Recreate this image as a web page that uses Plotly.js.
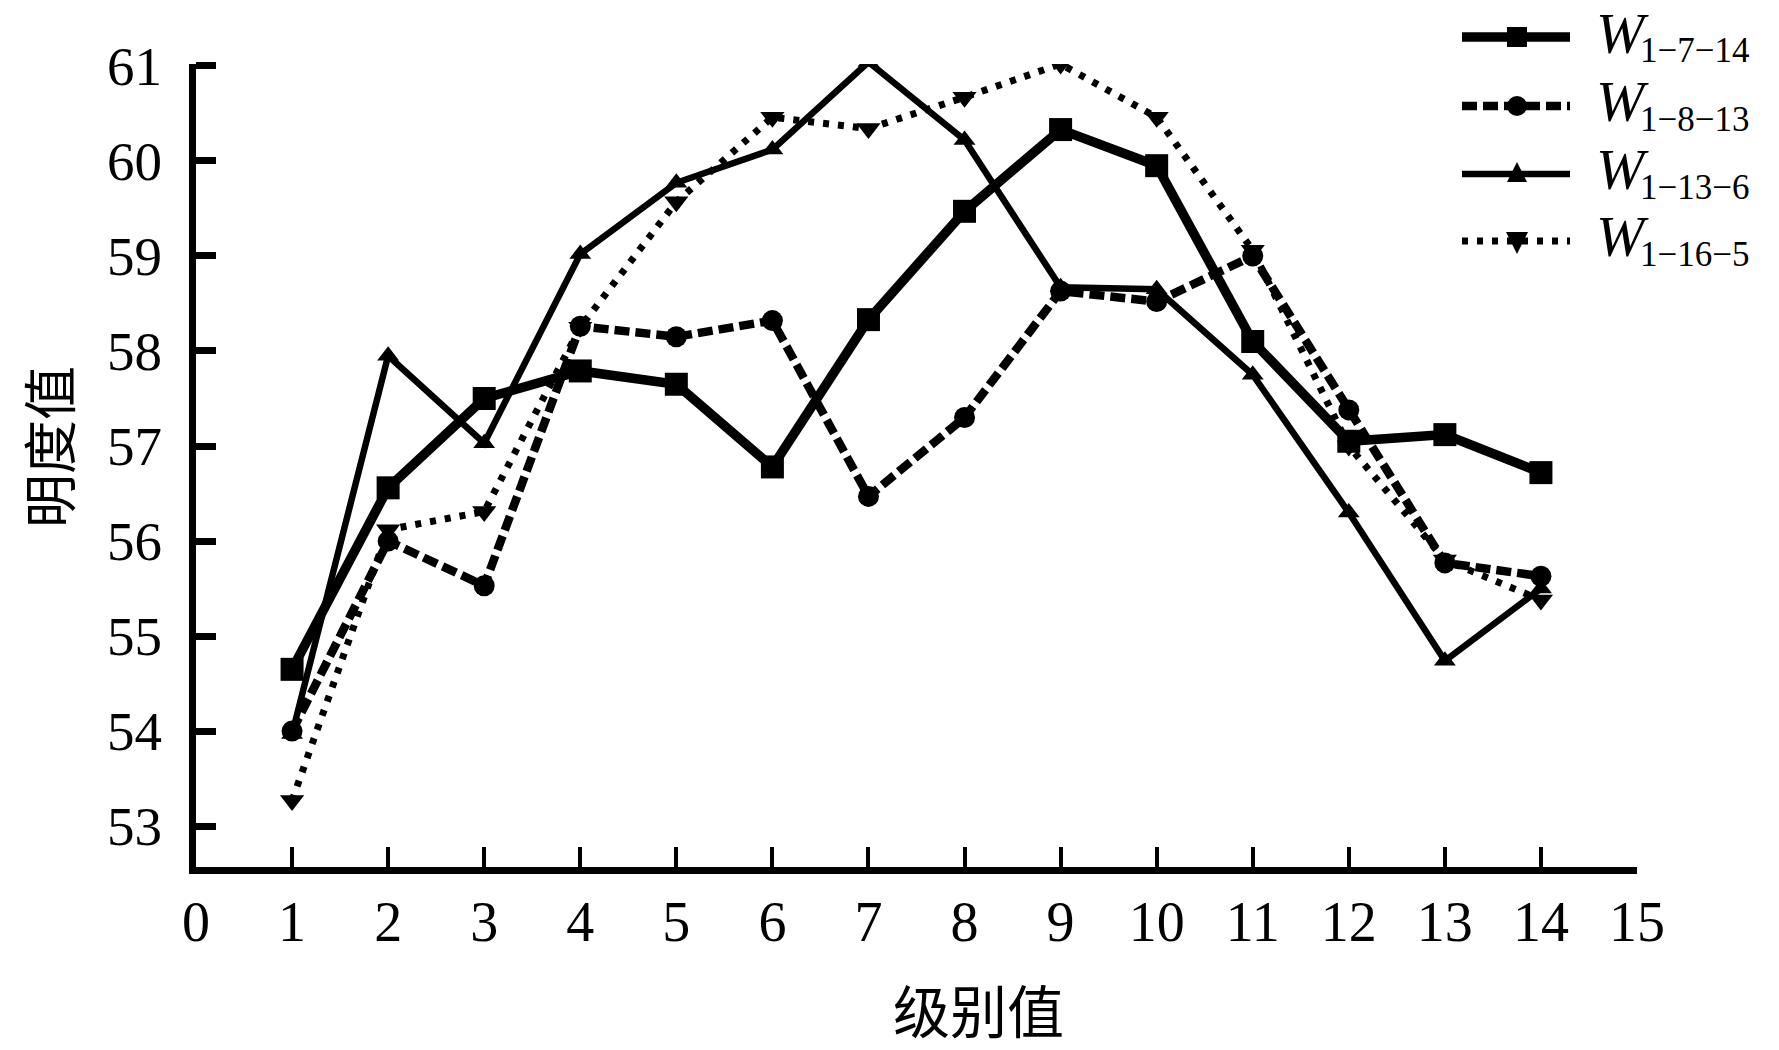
<!DOCTYPE html>
<html>
<head>
<meta charset="utf-8">
<script src="https://cdn.plot.ly/plotly-3.0.1.min.js"></script>
<style>
  html, body { margin: 0; padding: 0; background: #ffffff; }
  #chart { width: 1779px; height: 1050px; }
</style>
</head>
<body>
<div id="chart"></div>
<script>
// Level values (x axis)
const levels = [1, 2, 3, 4, 5, 6, 7, 8, 9, 10, 11, 12, 13, 14];

// Lightness values per series
const w_1_7_14  = [54.65, 56.56, 57.50, 57.79, 57.65, 56.78, 58.33, 59.47, 60.33, 59.95, 58.10, 57.05, 57.12, 56.72];
const w_1_8_13  = [54.00, 56.00, 55.53, 58.26, 58.15, 58.32, 56.47, 57.30, 58.63, 58.52, 59.00, 57.38, 55.77, 55.63];
const w_1_13_6  = [53.97, 57.95, 57.03, 59.02, 59.77, 60.12, 61.04, 60.22, 58.67, 58.65, 57.75, 56.30, 54.74, 55.50];
const w_1_16_5  = [53.27, 56.12, 56.31, 58.25, 59.57, 60.46, 60.34, 60.67, 61.02, 60.46, 59.06, 57.00, 55.80, 55.38];

// Series names (legend) and tick labels
const seriesMain = "W";
const seriesSubs = ["1\u22127\u221214", "1\u22128\u221213", "1\u221213\u22126", "1\u221216\u22125"];
const xTickVals = [0, 1, 2, 3, 4, 5, 6, 7, 8, 9, 10, 11, 12, 13, 14, 15];
const yTickVals = [53, 54, 55, 56, 57, 58, 59, 60, 61];
const xTitle = "级别值";
const yTitle = "明度值";

const serif = "Liberation Serif, Times New Roman, serif";
const cjk = "Noto Sans CJK SC, sans-serif";

// Layout geometry (pixels)
const W = 1779, H = 1050;
const M = { l: 196, r: 142, t: 64, b: 183 };
const PW = W - M.l - M.r, PH = H - M.t - M.b;
const px = v => (v - M.l) / PW;      // pixel x -> paper x
const py = v => (H - M.b - v) / PH;  // pixel y -> paper y

const styles = [
  { line: { color: "#000", width: 9.5, dash: "solid" },    marker: { symbol: "square",        size: 23, color: "#000" } },
  { line: { color: "#000", width: 8.5, dash: "15px,6px" }, marker: { symbol: "circle",        size: 21, color: "#000" } },
  { line: { color: "#000", width: 6.5, dash: "solid" },    marker: { symbol: "triangle-up",   size: 19, color: "#000" } },
  { line: { color: "#000", width: 7,   dash: "6px,9px" },  marker: { symbol: "triangle-down", size: 21, color: "#000" } }
];
const seriesValues = [w_1_7_14, w_1_8_13, w_1_13_6, w_1_16_5];

const traces = seriesValues.map((vals, i) => ({
  x: levels, y: vals,
  name: seriesMain + " " + seriesSubs[i],
  mode: "lines+markers", type: "scatter",
  line: styles[i].line, marker: styles[i].marker,
  showlegend: false
}));

// Hand-drawn legend (long line samples like the reference)
const legRows = [37, 106, 174, 241];
const legX0 = 1462, legX1 = 1570, legMx = 1517;
const shapes = [];
const annotations = [];
legRows.forEach((ry, i) => {
  const st = styles[i];
  shapes.push({
    type: "line", xref: "paper", yref: "paper",
    x0: px(legX0), x1: px(legX1), y0: py(ry), y1: py(ry),
    line: { color: "#000", width: st.line.width, dash: st.line.dash }
  });
  const sym = st.marker.symbol;
  if (sym === "square") {
    shapes.push({ type: "rect", xref: "paper", yref: "paper",
      x0: px(legMx - 10), x1: px(legMx + 10), y0: py(ry - 10), y1: py(ry + 10),
      fillcolor: "#000", line: { width: 0 } });
  } else if (sym === "circle") {
    shapes.push({ type: "circle", xref: "paper", yref: "paper",
      x0: px(legMx - 10), x1: px(legMx + 10), y0: py(ry - 10), y1: py(ry + 10),
      fillcolor: "#000", line: { width: 0 } });
  } else if (sym === "triangle-up") {
    shapes.push({ type: "path", xref: "paper", yref: "paper",
      path: "M" + px(legMx) + "," + py(ry - 12) + " L" + px(legMx + 10) + "," + py(ry + 8) +
            " L" + px(legMx - 10) + "," + py(ry + 8) + " Z",
      fillcolor: "#000", line: { width: 0 } });
  } else {
    shapes.push({ type: "path", xref: "paper", yref: "paper",
      path: "M" + px(legMx - 11) + "," + py(ry - 9) + " L" + px(legMx + 11) + "," + py(ry - 9) +
            " L" + px(legMx) + "," + py(ry + 13) + " Z",
      fillcolor: "#000", line: { width: 0 } });
  }
  annotations.push({
    text: "<i>" + seriesMain + "</i>", xref: "paper", yref: "paper",
    x: px(1594), y: py(ry - 4), xanchor: "left", yanchor: "middle", showarrow: false,
    font: { family: serif, size: 58, color: "#000" }
  });
  annotations.push({
    text: seriesSubs[i], xref: "paper", yref: "paper",
    x: px(1638), y: py(ry + 14), xanchor: "left", yanchor: "middle", showarrow: false,
    font: { family: serif, size: 35, color: "#000" }
  });
});

annotations.push({
  text: xTitle, xref: "paper", yref: "paper",
  x: px(978), y: py(1008),
  xanchor: "center", yanchor: "middle", showarrow: false,
  font: { family: cjk, size: 57, color: "#000" }
});
annotations.push({
  text: yTitle, xref: "paper", yref: "paper",
  x: px(47), y: py(447),
  xanchor: "center", yanchor: "middle", showarrow: false, textangle: -90,
  font: { family: cjk, size: 54, color: "#000" }
});

const layout = {
  width: W, height: H,
  paper_bgcolor: "#ffffff", plot_bgcolor: "#ffffff",
  margin: M,
  showlegend: false,
  xaxis: {
    range: [0, 15], tickvals: xTickVals, ticktext: xTickVals.map(String),
    showgrid: false, zeroline: false,
    showline: true, linecolor: "#000", linewidth: 7, mirror: false,
    ticks: "inside", ticklen: 20, tickwidth: 4, tickcolor: "#000",
    tickfont: { family: serif, size: 56, color: "#000" },
    ticklabelstandoff: 0
  },
  yaxis: {
    range: [52.57, 61.02], tickvals: yTickVals, ticktext: yTickVals.map(String),
    showgrid: false, zeroline: false,
    showline: true, linecolor: "#000", linewidth: 7, mirror: false,
    ticks: "inside", ticklen: 20, tickwidth: 7, tickcolor: "#000",
    tickfont: { family: serif, size: 55, color: "#000" },
    ticklabelstandoff: 16
  },
  shapes: shapes,
  annotations: annotations
};

Plotly.newPlot("chart", traces, layout, { staticPlot: true, displayModeBar: false });
</script>
</body>
</html>
